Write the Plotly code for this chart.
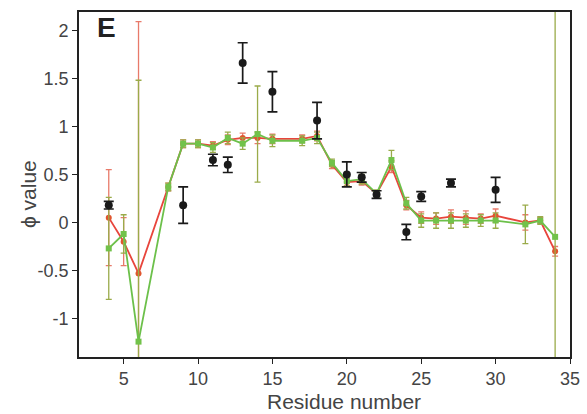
import plotly.graph_objects as go

# Experimental phi values (black points with error bars)
exp_res = [4, 9, 11, 12, 13, 15, 18, 20, 21, 22, 24, 25, 27, 30]
exp_phi = [0.18, 0.18, 0.65, 0.6, 1.66, 1.36, 1.06, 0.5, 0.47, 0.29, -0.1, 0.27, 0.41, 0.34]
exp_err = [0.04, 0.19, 0.06, 0.08, 0.21, 0.21, 0.19, 0.13, 0.05, 0.04, 0.08, 0.05, 0.04, 0.13]

# Simulated phi values, set 1 (red)
res = [4, 5, 6, 8, 9, 10, 11, 12, 13, 14, 15, 17, 18, 19, 20, 21, 22, 23, 24, 25, 26, 27, 28, 29, 30, 32, 33, 34]
red_phi = [0.05, -0.2, -0.53, 0.37, 0.82, 0.82, 0.8, 0.86, 0.88, 0.88, 0.87, 0.87, 0.9, 0.6, 0.42, 0.43, 0.3, 0.58, 0.18, 0.05, 0.04, 0.06, 0.05, 0.04, 0.07, 0.0, 0.02, -0.3]
red_err = [0.5, 0.25, 2.62, 0.04, 0.04, 0.04, 0.04, 0.05, 0.05, 0.06, 0.05, 0.04, 0.05, 0.04, 0.04, 0.04, 0.03, 0.06, 0.05, 0.06, 0.06, 0.07, 0.07, 0.05, 0.07, 0.08, 0.03, 0.05]

# Simulated phi values, set 2 (green)
green_phi = [-0.27, -0.12, -1.24, 0.37, 0.82, 0.82, 0.78, 0.88, 0.82, 0.92, 0.85, 0.85, 0.88, 0.62, 0.43, 0.45, 0.3, 0.65, 0.2, 0.02, 0.02, 0.02, 0.02, 0.02, 0.02, -0.02, 0.02, -0.15]
green_err = [0.53, 0.2, 2.72, 0.04, 0.04, 0.04, 0.05, 0.06, 0.06, 0.5, 0.06, 0.05, 0.06, 0.04, 0.05, 0.05, 0.04, 0.1, 0.06, 0.07, 0.08, 0.08, 0.07, 0.06, 0.08, 0.2, 0.04, 3.2]

x_ticks = [5, 10, 15, 20, 25, 30, 35]
y_ticks = [-1, -0.5, 0, 0.5, 1, 1.5, 2]

FONT = "Liberation Sans, Arial"
W, H = 587, 414
ML, MR, MT, MB = 79, 17, 12, 57
plot_w = W - ML - MR
plot_h = H - MT - MB


def px_to_paper(px, py):
    """Convert pixel position (from top-left of figure) to paper coordinates."""
    return (px - ML) / plot_w, (H - MB - py) / plot_h


fig = go.Figure()

fig.add_trace(go.Scatter(
    x=res, y=red_phi, mode="lines+markers",
    line=dict(color="#e8453c", width=1.8),
    marker=dict(color="#e0552e", size=6, symbol="circle"),
    error_y=dict(type="data", array=red_err, color="#e87a6a", thickness=1.3, width=3),
    showlegend=False,
))

fig.add_trace(go.Scatter(
    x=res, y=green_phi, mode="lines+markers",
    line=dict(color="#6cc04a", width=1.8),
    marker=dict(color="#72c24a", size=6, symbol="square"),
    error_y=dict(type="data", array=green_err, color="#9aab4a", thickness=1.3, width=3),
    showlegend=False,
))

fig.add_trace(go.Scatter(
    x=exp_res, y=exp_phi, mode="markers",
    marker=dict(color="#1a1a1a", size=8, symbol="circle"),
    error_y=dict(type="data", array=exp_err, color="#1a1a1a", thickness=1.7, width=5),
    showlegend=False,
))

# Panel letter
fig.add_annotation(
    x=0.055, y=0.955, xref="paper", yref="paper", text="<b>E</b>",
    showarrow=False, font=dict(family=FONT, size=28, color="#222222"),
    xanchor="center", yanchor="middle",
)

# Axis titles
tx, ty = px_to_paper(344, 415)
fig.add_annotation(
    x=tx, y=ty, xref="paper", yref="paper", text="Residue number",
    showarrow=False, font=dict(family=FONT, size=21, color="#444444"),
    xanchor="center", yanchor="bottom",
)
vx, vy = px_to_paper(28, 194)
fig.add_annotation(
    x=vx, y=vy, xref="paper", yref="paper", text="ϕ value", textangle=-90,
    showarrow=False, font=dict(family=FONT, size=21, color="#444444"),
    xanchor="center", yanchor="middle",
)

axis_common = dict(
    showline=True, linecolor="#222222", linewidth=1.6, mirror=True,
    ticks="outside", ticklen=5, tickwidth=1.3, tickcolor="#222222",
    showgrid=False, zeroline=False, automargin=False,
    tickfont=dict(family=FONT, size=18, color="#444444"),
)

fig.update_layout(
    width=W, height=H,
    margin=dict(l=ML, r=MR, t=MT, b=MB),
    paper_bgcolor="white", plot_bgcolor="white",
    xaxis=dict(range=[2, 35], tickvals=x_ticks, **axis_common),
    yaxis=dict(range=[-1.4, 2.19], tickvals=y_ticks, ticktext=[str(v) for v in y_ticks],
               **axis_common),
)

fig.write_html("out.html")
